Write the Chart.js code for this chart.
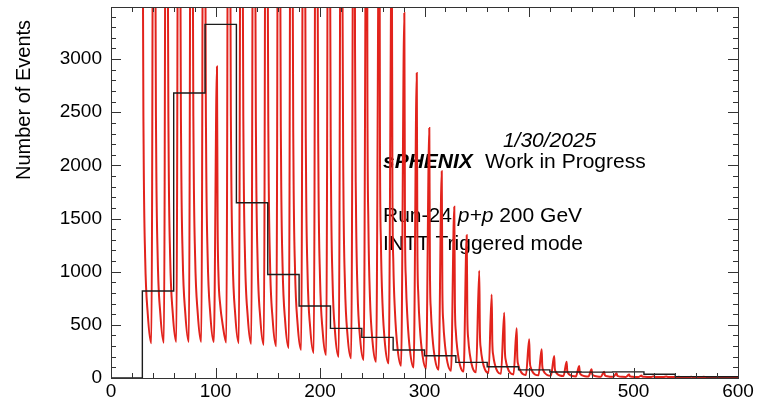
<!DOCTYPE html>
<html>
<head>
<meta charset="utf-8">
<script src="https://cdn.jsdelivr.net/npm/chart.js@4.4.1/dist/chart.umd.min.js"></script>
<style>
body { margin: 0; background: #fff; }
canvas { display: block; }
</style>
</head>
<body>
<canvas id="bcodiff" width="759" height="406"></canvas>
<script>
// coarse histogram, 30-unit bins (left edges + final edge)
var histEdges = [0, 30, 60, 90, 120, 150, 180, 210, 240, 270, 300, 330, 360, 390, 420, 450, 480, 510, 540, 570, 600];
var histCounts = [0, 818, 2681, 3327, 1648, 974, 677, 467, 382, 263, 210, 147, 106, 76, 56, 55, 58, 35, 13, 12];

// fine distribution, one line per bunch cycle: peak, fall, valley
var fineX = [
	29.7, 30.3, 31.2, 32.7, 35.2, 38.6,
	41.7, 42.3, 43.2, 44.7, 47.2, 50.6,
	53.6, 54.2, 55.1, 56.6, 59.1, 62.5,
	65.6, 66.2, 67.1, 68.6, 71.1, 74.5,
	77.5, 78.1, 79.0, 80.5, 83.0, 86.4,
	89.5, 90.1, 91.0, 92.5, 95.0, 98.4,
	101.4, 102.0, 102.9, 104.4, 106.9, 110.3,
	113.4, 114.0, 114.9, 116.4, 118.9, 122.3,
	125.3, 125.9, 126.8, 128.3, 130.8, 134.2,
	137.3, 137.9, 138.8, 140.3, 142.8, 146.2,
	149.2, 149.8, 150.7, 152.2, 154.7, 158.1,
	161.2, 161.8, 162.7, 164.2, 166.7, 170.1,
	173.1, 173.7, 174.6, 176.1, 178.6, 182.0,
	185.1, 185.7, 186.6, 188.1, 190.6, 194.0,
	197.0, 197.6, 198.5, 200.0, 202.5, 205.9,
	209.0, 209.6, 210.5, 212.0, 214.5, 217.9,
	220.9, 221.5, 222.4, 223.9, 226.4, 229.8,
	232.9, 233.5, 234.4, 235.9, 238.4, 241.8,
	244.8, 245.4, 246.3, 247.8, 250.3, 253.7,
	256.8, 257.4, 258.3, 259.8, 262.3, 265.7,
	268.7, 269.3, 270.2, 271.7, 274.2, 277.6,
	280.7, 281.3, 282.2, 283.7, 286.2, 289.6,
	292.6, 293.2, 294.1, 295.6, 298.1, 301.5,
	304.6, 305.2, 306.1, 307.6, 310.1, 313.5,
	316.5, 317.1, 318.0, 319.5, 322.0, 325.4,
	328.5, 329.1, 330.0, 331.5, 334.0, 337.4,
	340.4, 341.0, 341.9, 343.4, 345.9, 349.3,
	352.4, 353.0, 353.9, 355.4, 357.9, 361.3,
	364.3, 364.9, 365.8, 367.3, 369.8, 373.2,
	376.3, 376.9, 377.8, 379.3, 381.8, 385.2,
	388.2, 388.8, 389.7, 391.2, 393.7, 397.1,
	400.2, 400.8, 401.7, 403.2, 405.7, 409.1,
	412.1, 412.7, 413.6, 415.1, 417.6, 421.0,
	424.1, 424.7, 425.6, 427.1, 429.6, 433.0,
	436.0, 436.6, 437.5, 439.0, 441.5, 444.9,
	448.0, 448.6, 449.5, 451.0, 453.5, 456.9,
	459.9, 460.5, 461.4, 462.9, 465.4, 468.8,
	471.9, 472.5, 473.4, 474.9, 477.4, 480.8,
	483.8, 484.4, 485.3, 486.8, 489.3, 492.7,
	495.8, 496.4, 497.3, 498.8, 501.3, 504.7,
	507.7, 508.3, 509.2, 510.7, 513.2, 516.6,
	519.7, 520.3, 521.2, 522.7, 525.2, 528.6,
	531.6, 532.2, 533.1, 534.6, 537.1, 540.5,
	543.6, 544.2, 545.1, 546.6, 549.1, 552.5,
	555.5, 556.1, 557.0, 558.5, 561.0, 564.4,
	567.5, 568.1, 569.0, 570.5, 573.0, 576.4,
	579.4, 580.0, 580.9, 582.4, 584.9, 588.3,
	591.4, 592.0, 592.9, 594.4, 596.9, 600.0
];
var fineCounts = [
	10000, 4400, 2200, 1130, 600, 326,
	10000, 4400, 2200, 1130, 605, 332,
	10000, 4400, 2200, 1140, 610, 340,
	10000, 4400, 2200, 1140, 610, 340,
	10000, 4400, 2200, 1140, 610, 340,
	10000, 4400, 2200, 1140, 605, 338,
	2930, 1500, 950, 700, 500, 335,
	10000, 4400, 2200, 1130, 595, 328,
	10000, 4400, 2200, 1120, 585, 322,
	10000, 4400, 2180, 1100, 570, 312,
	10000, 4350, 2150, 1080, 550, 298,
	10000, 4300, 2100, 1050, 530, 282,
	10000, 4250, 2050, 1020, 505, 265,
	10000, 4200, 2000, 980, 475, 235,
	10000, 4150, 1950, 950, 445, 216,
	9500, 4000, 1900, 920, 420, 200,
	8500, 3700, 1800, 880, 395, 185,
	7200, 3150, 1650, 820, 370, 170,
	6000, 2600, 1450, 760, 340, 153,
	5000, 2150, 1270, 700, 310, 138,
	4150, 1800, 1080, 630, 280, 115,
	3433, 1480, 920, 560, 250, 98,
	2869, 1240, 780, 470, 212, 88,
	2352, 1015, 640, 390, 175, 77,
	1945, 840, 525, 320, 145, 68,
	1610, 695, 435, 265, 120, 60,
	1344, 580, 365, 222, 100, 53,
	1010, 435, 275, 167, 78, 47,
	785, 340, 212, 130, 62, 40,
	614, 265, 166, 102, 50, 34,
	467, 200, 126, 78, 40, 29,
	364, 157, 98, 62, 33, 25,
	270, 116, 74, 47, 27, 21,
	207, 90, 58, 38, 23, 18,
	153, 68, 44, 30, 19, 15,
	113, 51, 34, 24, 16, 13,
	82, 38, 26, 19, 14, 12,
	59, 29, 21, 16, 12, 11,
	44, 23, 17, 13, 11, 10,
	32, 18, 14, 12, 10, 10,
	24, 15, 12, 11, 10, 9,
	16, 12, 10, 10, 9, 9,
	13, 11, 10, 9, 9, 8,
	12, 10, 9, 9, 8, 8,
	11, 10, 9, 8, 8, 8,
	11, 9, 9, 8, 8, 7,
	10, 9, 8, 8, 7, 7,
	10, 9, 8, 8, 7, 7
];

var xTicks = [0, 100, 200, 300, 400, 500, 600];
var yTicks = [0, 500, 1000, 1500, 2000, 2500, 3000];

var FONT = '"Liberation Sans", Arial, Helvetica, sans-serif';

function histPoints() {
	var pts = [];
	for (var i = 0; i < histCounts.length; i++) {
		pts.push({ x: histEdges[i], y: histCounts[i] });
	}
	pts.push({ x: histEdges[histEdges.length - 1], y: histCounts[histCounts.length - 1] });
	return pts;
}

function finePoints() {
	var pts = [];
	for (var i = 0; i < fineX.length; i++) {
		pts.push({ x: fineX[i], y: fineCounts[i] });
	}
	return pts;
}

// ROOT-style frame: ticks on all four sides, pointing inward
var rootFrame = {
	id: "rootFrame",
	beforeDatasetsDraw: function (chart) {
		var ctx = chart.ctx;
		var xs = chart.scales.x, ys = chart.scales.y;
		ctx.save();
		ctx.fillStyle = "#000";
		ctx.textBaseline = "alphabetic";
		ctx.textAlign = "left";

		ctx.font = "italic 21px " + FONT;
		ctx.fillText("1/30/2025", xs.getPixelForValue(375), ys.getPixelForValue(2171));

		ctx.font = "italic bold 21px " + FONT;
		ctx.fillText("sPHENIX", xs.getPixelForValue(260.3), ys.getPixelForValue(1974));
		ctx.font = "21px " + FONT;
		ctx.fillText("Work in Progress", xs.getPixelForValue(357.9), ys.getPixelForValue(1974));

		var x = xs.getPixelForValue(260.3);
		var y = ys.getPixelForValue(1466);
		var parts = [["Run-24 ", ""], ["p+p", "italic "], [" 200 GeV", ""]];
		for (var i = 0; i < parts.length; i++) {
			ctx.font = parts[i][1] + "21px " + FONT;
			ctx.fillText(parts[i][0], x, y);
			x += ctx.measureText(parts[i][0]).width;
		}
		ctx.font = "21px " + FONT;
		ctx.fillText("INTT Triggered mode", xs.getPixelForValue(260.3), ys.getPixelForValue(1203));
		ctx.restore();
	},
	afterDatasetsDraw: function (chart) {
		var ctx = chart.ctx;
		var a = chart.chartArea;
		var xs = chart.scales.x, ys = chart.scales.y;
		ctx.save();
		ctx.strokeStyle = "#333";
		ctx.lineWidth = 1;
		ctx.strokeRect(Math.round(a.left) + 0.5, Math.round(a.top) + 0.5,
			Math.round(a.right - a.left), Math.round(a.bottom - a.top));

		ctx.beginPath();
		for (var v = 0; v <= 600; v += 20) {
			var px = Math.round(xs.getPixelForValue(v)) + 0.5;
			var len = (v % 100 === 0) ? 10 : 5;
			ctx.moveTo(px, a.bottom);
			ctx.lineTo(px, a.bottom - len);
			ctx.moveTo(px, a.top);
			ctx.lineTo(px, a.top + len);
		}
		for (var w = 0; w <= ys.max; w += 100) {
			var py = Math.round(ys.getPixelForValue(w)) + 0.5;
			var l = (w % 500 === 0) ? 10 : 5;
			ctx.moveTo(a.left, py);
			ctx.lineTo(a.left + l, py);
			ctx.moveTo(a.right, py);
			ctx.lineTo(a.right - l, py);
		}
		ctx.stroke();

		// y axis title, right-aligned to the top of the axis
		ctx.translate(30, 180);
		ctx.rotate(-Math.PI / 2);
		ctx.fillStyle = "#000";
		ctx.font = "20px " + FONT;
		ctx.textAlign = "left";
		ctx.textBaseline = "alphabetic";
		ctx.fillText("Number of Events", 0, 0);
		ctx.restore();
	}
};

function noPad(s) {
	s.paddingTop = 0;
	s.paddingBottom = 0;
	s.paddingLeft = 0;
	s.paddingRight = 0;
}

var chart = new Chart(document.getElementById("bcodiff").getContext("2d"), {
	type: "line",
	data: {
		datasets: [{
			label: "30-unit bins",
			data: histPoints(),
			stepped: "before",
			borderColor: "#1c1c1c",
			borderWidth: 1.4,
			pointRadius: 0,
			fill: false,
			order: 0
		}, {
			label: "fine bins",
			data: finePoints(),
			borderColor: "#e2231c",
			borderWidth: 2,
			pointRadius: 0,
			fill: false,
			cubicInterpolationMode: "monotone",
			order: 1
		}]
	},
	options: {
		responsive: false,
		animation: false,
		events: [],
		layout: { padding: { left: 0, right: 21, top: 7, bottom: 0 } },
		plugins: {
			legend: { display: false },
			tooltip: { enabled: false }
		},
		scales: {
			x: {
				type: "linear",
				min: 0,
				max: 600,
				grid: { display: false, drawTicks: false },
				border: { display: false },
				afterBuildTicks: function (s) {
					s.ticks = xTicks.map(function (v) { return { value: v }; });
				},
				ticks: {
					color: "#000",
					font: { family: FONT, size: 19 },
					padding: 2,
					maxRotation: 0,
					autoSkip: false,
					callback: function (v) { return String(v); }
				},
				afterFit: function (s) { s.height = 28; noPad(s); }
			},
			y: {
				type: "linear",
				min: 0,
				max: 3490,
				grid: { display: false, drawTicks: false },
				border: { display: false },
				afterBuildTicks: function (s) {
					s.ticks = yTicks.map(function (v) { return { value: v }; });
				},
				ticks: {
					color: "#000",
					font: { family: FONT, size: 19 },
					padding: 9,
					autoSkip: false,
					callback: function (v) { return String(v); }
				},
				afterFit: function (s) { s.width = 111; noPad(s); }
			}
		}
	},
	plugins: [rootFrame]
});
</script>
</body>
</html>
